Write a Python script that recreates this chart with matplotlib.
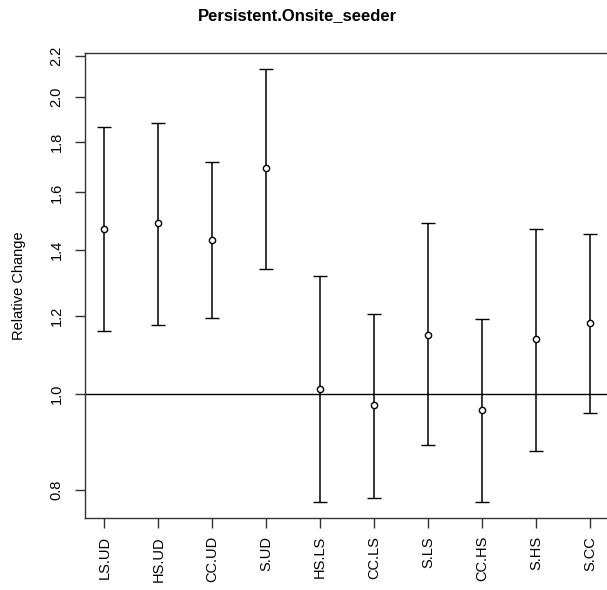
import matplotlib
matplotlib.use("Agg")
import matplotlib.pyplot as plt
from matplotlib.ticker import FixedLocator, NullLocator

plt.rcParams["font.family"] = ["Liberation Sans", "DejaVu Sans"]

contrasts = ["LS.UD", "HS.UD", "CC.UD", "S.UD", "HS.LS", "CC.LS", "S.LS", "CC.HS", "S.HS", "S.CC"]
estimate = [1.47, 1.49, 1.433, 1.692, 1.012, 0.975, 1.147, 0.963, 1.136, 1.18]
lower = [1.158, 1.174, 1.195, 1.338, 0.778, 0.785, 0.888, 0.778, 0.876, 0.957]
upper = [1.865, 1.882, 1.719, 2.133, 1.317, 1.206, 1.489, 1.191, 1.469, 1.452]
yticks = [0.8, 1.0, 1.2, 1.4, 1.6, 1.8, 2.0, 2.2]

fig = plt.figure(figsize=(6.07, 5.9), dpi=100)
ax = fig.add_axes([0.140, 0.122, 0.864, 0.788])

x = list(range(1, len(contrasts) + 1))
err = [[e - l for e, l in zip(estimate, lower)], [u - e for e, u in zip(estimate, upper)]]
ax.errorbar(x, estimate, yerr=err, fmt="o", color="black", ecolor="black",
            mfc="white", mec="black", ms=4.5, mew=1.0, elinewidth=1.1,
            capsize=5, capthick=1.1, zorder=3)
ax.axhline(1.0, color="black", lw=1.0)

ax.set_yscale("log")
ax.set_ylim(0.749, 2.214)
ax.set_xlim(0.64, 10.36)
ax.yaxis.set_major_locator(FixedLocator(yticks))
ax.yaxis.set_minor_locator(NullLocator())
ax.set_yticklabels(["%.1f" % t for t in yticks], rotation=90, va="center", fontsize=10.5)
ax.set_xticks(x)
ax.set_xticklabels(contrasts, rotation=90, fontsize=10.5)
ax.tick_params(axis="x", length=7, width=1.0, color="#333333", pad=6)
ax.tick_params(axis="y", length=7.5, width=1.0, color="#333333", pad=8)

for s in ax.spines.values():
    s.set_linewidth(1.0)
    s.set_color("#333333")

ax.set_ylabel("Relative Change", fontsize=10.5)
ax.yaxis.set_label_coords(-0.1125, 0.5)
fig.text(297 / 607, 1 - 16 / 590, "Persistent.Onsite_seeder", ha="center", va="center",
         fontsize=12, fontweight="bold")

fig.savefig("out.png", dpi=100)
